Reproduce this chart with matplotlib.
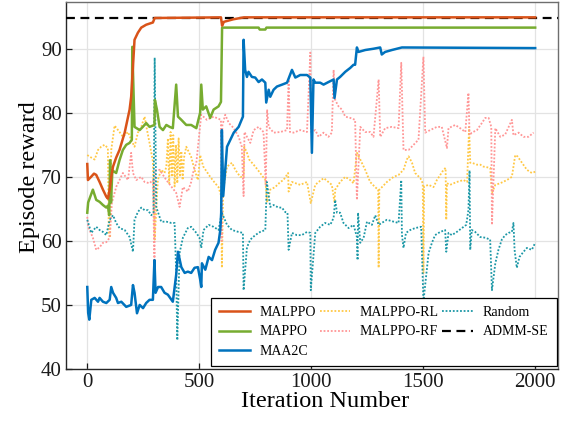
import matplotlib
matplotlib.use("Agg")
import matplotlib.pyplot as plt

# ---------------- data ----------------
malppo_x = [0, 3, 17, 30, 40, 55, 70, 85, 92, 100, 107, 115, 129, 144, 167, 189, 196, 204, 211,
            226, 241, 263, 293, 301, 597, 602, 610, 652, 700, 2000]
malppo_y = [72.0, 69.5, 70.0, 70.5, 70.3, 69.2, 68.0, 66.9, 66.6, 68.0, 70.0, 71.6, 73.0, 74.2,
            76.9, 80.5, 82.5, 87.2, 91.4, 92.5, 93.3, 93.75, 94.1, 94.8, 94.9, 93.6, 94.2, 94.6,
            94.9, 94.9]

mappo_x = [0, 4, 25, 40, 55, 70, 85, 92, 98, 102, 106, 112, 129, 144, 159, 174, 189, 199, 201,
           211, 234, 248, 263, 278, 300, 302, 311, 323, 338, 353, 368, 382, 397, 405, 420, 442,
           464, 487, 504, 509, 516, 531, 549, 564, 586, 597, 602, 765, 770, 795, 800, 2000]
mappo_y = [64.4, 66.0, 68.0, 66.4, 66.1, 65.6, 65.2, 65.5, 64.0, 72.6, 66.0, 71.0, 70.6, 72.6,
           74.2, 75.0, 75.3, 75.8, 90.3, 77.8, 77.3, 77.8, 78.4, 77.8, 78.1, 82.0, 80.5, 77.8,
           77.3, 78.1, 77.8, 77.6, 84.4, 79.4, 78.9, 78.1, 78.1, 77.6, 80.0, 84.4, 80.5, 81.0,
           79.2, 80.5, 81.0, 81.7, 93.3, 93.3, 93.0, 93.0, 93.3, 93.3]

maa2c_x = [0, 4, 9, 18, 33, 48, 55, 70, 85, 100, 107, 115, 129, 137, 152, 174, 196, 204, 211,
           222, 234, 249, 263, 278, 293, 300, 305, 316, 330, 345, 360, 382, 397, 405, 420, 435,
           449, 464, 479, 494, 504, 509, 512, 527, 542, 557, 571, 586, 594, 598, 601, 607, 624,
           639, 654, 676, 695, 698, 705, 713, 720, 735, 750, 765, 780, 795, 799, 810, 817, 832,
           847, 870, 892, 914, 929, 951, 981, 996, 1003, 1010, 1018, 1040, 1055, 1077, 1100,
           1104, 1115, 1129, 1152, 1174, 1189, 1196, 1204, 1211, 1241, 1278, 1308, 1315, 1330,
           1360, 1405, 2000]
maa2c_y = [52.8, 48.75, 47.7, 50.8, 51.1, 50.5, 51.1, 50.5, 50.3, 50.8, 52.8, 51.9, 51.1, 50.3,
           50.5, 49.7, 50.0, 53.1, 51.9, 48.7, 50.0, 49.5, 50.3, 50.8, 50.8, 57.0, 51.9, 52.8,
           52.8, 51.9, 51.6, 50.5, 54.7, 58.3, 55.9, 55.0, 55.2, 55.0, 55.8, 55.9, 54.0, 52.8,
           56.5, 55.5, 57.5, 57.0, 58.6, 59.7, 61.7, 64.4, 77.3, 67.0, 74.7, 75.8, 76.9, 77.8,
           79.4, 91.4, 86.7, 85.6, 86.4, 85.6, 85.5, 84.8, 85.2, 84.7, 81.6, 83.6, 82.5, 83.6,
           84.1, 84.4, 84.7, 86.7, 85.5, 85.9, 85.9, 85.5, 73.75, 85.2, 84.7, 84.7, 84.4, 84.8,
           85.2, 82.3, 85.2, 85.6, 86.4, 87.0, 87.5, 87.5, 90.2, 89.5, 89.8, 90.0, 90.2, 89.1,
           89.5, 89.8, 90.2, 90.1]

rl_x = [0, 18, 33, 48, 62, 77, 92, 96, 102, 107, 122, 144, 159, 182, 196, 211, 226, 241, 256,
        263, 278, 293, 301, 315, 330, 345, 353, 360, 366, 372, 378, 384, 390, 396, 402, 408,
        414, 420, 426, 432, 442, 464, 479, 494, 504, 518, 549, 571, 586, 598, 601, 607, 624,
        646, 661, 683, 698, 701, 713, 723, 750, 772, 795, 803, 817, 839, 862, 876, 897, 899,
        914, 951, 981, 998, 1018, 1033, 1056, 1077, 1092, 1104, 1107, 1129, 1152, 1174, 1189,
        1204, 1219, 1241, 1263, 1285, 1299, 1301, 1304, 1316, 1338, 1368, 1390, 1412, 1427,
        1435, 1450, 1464, 1487, 1498, 1501, 1504, 1524, 1546, 1561, 1576, 1591, 1600, 1603,
        1606, 1620, 1650, 1680, 1696, 1705, 1710, 1717, 1740, 1755, 1769, 1799, 1807, 1822,
        1844, 1874, 1896, 1911, 1921, 1941, 1963, 1985, 2000]
rl_y = [73.4, 73.0, 72.7, 74.2, 74.7, 75.0, 74.5, 61.0, 60.5, 74.2, 78.0, 77.0, 76.25, 77.0,
        75.8, 74.7, 76.9, 77.8, 79.4, 78.0, 75.3, 72.4, 60.2, 69.5, 71.1, 70.6, 71.6, 76.0,
        69.0, 77.0, 70.0, 76.5, 68.5, 75.0, 69.0, 76.0, 70.0, 74.0, 69.5, 73.0, 74.7, 73.1,
        71.1, 69.5, 73.4, 71.6, 70.0, 69.0, 68.4, 67.0, 55.8, 68.0, 71.6, 72.2, 71.1, 70.0,
        70.0, 74.7, 73.75, 72.7, 71.6, 70.6, 69.5, 66.0, 68.0, 68.4, 69.2, 69.5, 70.6, 67.7,
        69.2, 68.75, 69.2, 65.9, 68.75, 69.2, 69.8, 69.2, 68.75, 66.0, 68.0, 69.2, 70.0, 69.5,
        69.0, 73.75, 72.7, 71.1, 69.2, 68.4, 68.0, 55.8, 68.0, 68.4, 69.2, 70.0, 70.3, 71.1,
        72.7, 73.2, 72.2, 70.6, 69.8, 69.0, 55.0, 68.5, 68.75, 68.4, 69.5, 70.3, 71.1, 71.4,
        63.3, 69.0, 68.75, 69.2, 69.5, 69.2, 77.8, 72.2, 72.2, 71.9, 71.9, 71.6, 71.4, 67.5,
        68.75, 69.0, 69.5, 70.0, 73.4, 73.2, 72.2, 71.1, 70.6, 70.8]

rf_x = [0, 4, 25, 40, 55, 70, 85, 100, 110, 130, 144, 159, 182, 196, 204, 219, 241, 256, 278,
        293, 300, 303, 323, 353, 397, 412, 427, 449, 464, 472, 487, 509, 534, 564, 597, 600,
        603, 616, 632, 654, 676, 690, 698, 702, 713, 728, 743, 765, 787, 797, 803, 810, 832,
        862, 892, 899, 905, 921, 951, 981, 996, 1000, 1018, 1033, 1055, 1077, 1092, 1100, 1107,
        1122, 1137, 1152, 1174, 1196, 1204, 1219, 1241, 1263, 1278, 1301, 1308, 1330, 1360,
        1390, 1402, 1412, 1435, 1457, 1479, 1501, 1509, 1531, 1561, 1583, 1606, 1613, 1643,
        1665, 1688, 1702, 1707, 1717, 1740, 1762, 1777, 1792, 1804, 1807, 1822, 1844, 1866,
        1896, 1903, 1926, 1948, 1970, 1993]
rf_y = [63.75, 62.2, 60.5, 58.6, 59.0, 59.7, 59.8, 60.5, 66.0, 68.5, 69.5, 70.6, 69.5, 73.75,
        70.6, 69.5, 70.0, 69.2, 69.0, 69.5, 57.0, 71.0, 71.1, 69.5, 67.5, 65.3, 68.4, 67.7,
        69.2, 70.6, 72.2, 79.7, 78.9, 79.4, 78.9, 60.0, 78.0, 79.7, 78.4, 77.6, 76.25, 74.7,
        67.0, 77.0, 76.25, 75.3, 77.3, 77.8, 77.0, 68.75, 80.5, 77.8, 76.9, 77.0, 77.3, 85.2,
        77.0, 76.9, 77.3, 77.0, 89.4, 77.0, 77.3, 76.25, 76.9, 76.25, 76.9, 86.7, 82.0, 81.0,
        80.5, 79.4, 79.2, 78.9, 66.4, 77.8, 77.0, 77.0, 76.25, 85.2, 76.25, 77.6, 77.8, 77.6,
        87.8, 74.2, 74.2, 75.0, 75.8, 88.75, 76.9, 77.3, 77.8, 77.8, 74.5, 77.6, 78.1, 77.6,
        77.0, 83.1, 76.5, 76.9, 77.3, 78.4, 79.2, 79.2, 77.8, 62.5, 77.6, 76.25, 76.6, 78.9,
        76.5, 76.9, 76.25, 76.25, 76.9]

rand_x = [0, 18, 40, 55, 70, 85, 100, 115, 129, 144, 167, 189, 204, 211, 226, 241, 256, 271,
          286, 296, 301, 308, 330, 353, 375, 390, 397, 402, 412, 427, 449, 464, 487, 501, 509,
          519, 542, 564, 586, 601, 624, 646, 675, 695, 698, 713, 728, 750, 772, 795, 802, 817,
          832, 854, 869, 884, 894, 899, 914, 936, 958, 981, 996, 998, 1018, 1040, 1062, 1085,
          1100, 1107, 1115, 1129, 1144, 1167, 1189, 1204, 1207, 1209, 1219, 1234, 1249, 1271,
          1286, 1301, 1315, 1338, 1368, 1390, 1402, 1405, 1412, 1423, 1442, 1464, 1491, 1501,
          1524, 1539, 1553, 1576, 1598, 1603, 1613, 1628, 1650, 1673, 1692, 1702, 1707, 1710,
          1717, 1732, 1755, 1777, 1799, 1807, 1822, 1836, 1851, 1866, 1881, 1896, 1903, 1908,
          1918, 1930, 1948, 1963, 1985, 2000]
rand_y = [63.3, 61.25, 62.2, 61.7, 61.4, 60.9, 63.3, 64.0, 62.8, 62.0, 61.7, 60.6, 58.3, 63.3,
          64.5, 65.2, 64.8, 64.8, 64.0, 64.5, 88.6, 65.3, 63.0, 63.0, 62.8, 62.8, 55.0, 44.5,
          58.1, 60.5, 62.0, 62.2, 61.25, 60.5, 58.9, 61.7, 62.5, 62.2, 61.7, 64.4, 62.5, 61.7,
          61.4, 61.25, 52.3, 59.0, 60.2, 60.9, 61.4, 61.7, 69.2, 65.3, 65.6, 65.2, 65.2, 64.5,
          64.4, 58.6, 61.25, 60.9, 60.9, 61.4, 61.25, 52.3, 61.25, 62.2, 62.8, 62.5, 63.6, 66.4,
          64.4, 64.4, 62.8, 62.0, 62.5, 60.6, 57.0, 64.4, 59.7, 60.5, 63.0, 62.5, 64.0, 62.5,
          62.8, 63.3, 63.0, 62.8, 69.5, 61.0, 58.9, 61.25, 61.7, 62.0, 62.2, 50.5, 58.1, 59.7,
          60.9, 61.4, 61.7, 58.3, 61.25, 60.9, 61.4, 62.0, 62.5, 64.8, 71.0, 58.6, 61.7, 61.4,
          60.6, 60.5, 60.2, 52.3, 56.5, 58.6, 60.2, 60.9, 61.25, 61.4, 62.8, 58.6, 55.8, 57.5,
          58.3, 58.9, 58.6, 59.7]

admm_value = 94.8

x_ticks = [0, 500, 1000, 1500, 2000]
y_ticks = [40, 50, 60, 70, 80, 90]

# ---------------- figure ----------------
plt.rcParams['font.family'] = ['Liberation Serif', 'DejaVu Serif']
plt.rcParams['mathtext.fontset'] = 'stix'

fig = plt.figure(figsize=(5.66, 4.23), dpi=100)
ax = fig.add_axes([0.1166, 0.1277, 0.8693, 0.8676])

dot = (0, (1.0, 1.0))
ax.plot(rl_x, rl_y, color='#FFC845', lw=1.3, ls=dot, label='MALPPO-RL', zorder=2)
ax.plot(rf_x, rf_y, color='#FF9696', lw=1.3, ls=dot, label='MALPPO-RF', zorder=2)
ax.plot(rand_x, rand_y, color='#1B97A6', lw=1.3, ls=dot, label='Random', zorder=2)
ax.axhline(admm_value, color='black', lw=1.6, ls=(0, (4, 2.5)), label='ADMM-SE', zorder=3)
ax.plot(maa2c_x, maa2c_y, color='#0072BD', lw=1.8, label='MAA2C', zorder=4)
ax.plot(mappo_x, mappo_y, color='#77AC30', lw=1.8, label='MAPPO', zorder=5)
ax.plot(malppo_x, malppo_y, color='#D95319', lw=1.8, label='MALPPO', zorder=6)

ax.set_xlim(-95, 2102)
ax.set_ylim(40, 97.3)
ax.set_xticks(x_ticks)
ax.set_yticks(y_ticks)
ax.grid(True, color='#e3e3e3', lw=0.9)
ax.set_axisbelow(True)
ax.tick_params(direction='in', length=4, width=0.9, labelsize=15, colors='#1a1a1a', pad=3)
for s in ['left', 'bottom']:
    ax.spines[s].set_color('#262626')
    ax.spines[s].set_linewidth(1.0)
for s in ['top', 'right']:
    ax.spines[s].set_color('#6e6e6e')
    ax.spines[s].set_linewidth(1.0)

ax.set_xlabel('Iteration Number', fontsize=17.5, labelpad=-1, x=0.526)
ax.set_ylabel('Episode reward', fontsize=17.5, labelpad=1, y=0.523)

handles, labels = ax.get_legend_handles_labels()
order = ['MALPPO', 'MAPPO', 'MAA2C', 'MALPPO-RL', 'MALPPO-RF', 'Random', 'ADMM-SE']
hmap = dict(zip(labels, handles))
leg = ax.legend([hmap[k] for k in order], order, ncol=3, loc='lower right',
                bbox_to_anchor=(0.997, 0.008), fontsize=10, frameon=True, fancybox=False,
                edgecolor='black', framealpha=1, handlelength=2.2, columnspacing=0.25,
                handletextpad=0.7, labelspacing=0.45, borderpad=0.6, borderaxespad=0.0)
leg.get_frame().set_linewidth(0.9)

fig.savefig('out.png', dpi=100)
